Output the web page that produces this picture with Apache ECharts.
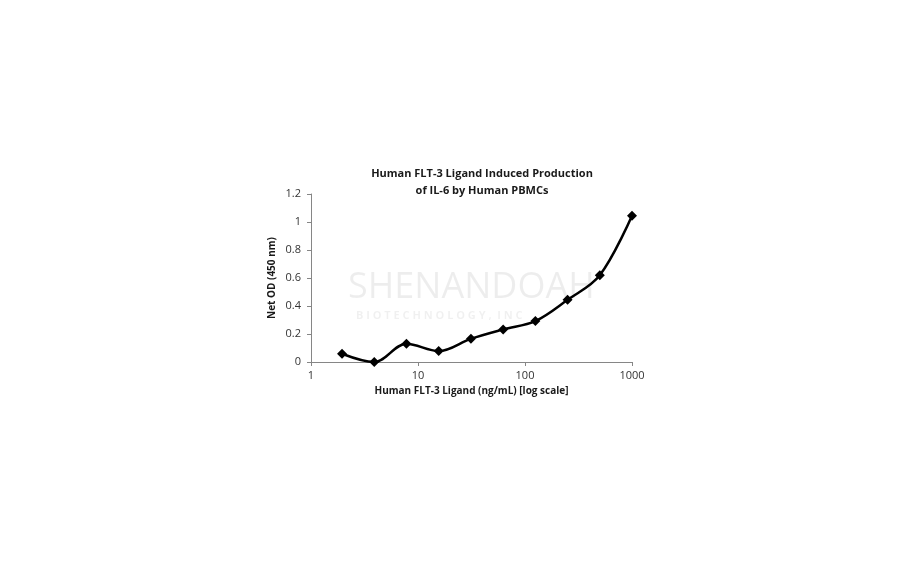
<!DOCTYPE html>
<html>
<head>
<meta charset="utf-8">
<script src="https://cdn.jsdelivr.net/npm/echarts@6/dist/echarts.min.js"></script>
<style>
html,body{margin:0;padding:0;background:#fff;}
#chart{width:912px;height:562px;}
</style>
</head>
<body>
<div id="chart"></div>
<script>
// concentrations (ng/mL) and net OD readings
const concentrations = [1.95, 3.9, 7.8, 15.6, 31.25, 62.5, 125, 250, 500, 1000];
const netOD = [0.059, 0.0, 0.13, 0.078, 0.166, 0.233, 0.292, 0.444, 0.62, 1.045];
const titleLines = ['Human FLT-3 Ligand Induced Production', 'of IL-6 by Human PBMCs'];
const xName = 'Human FLT-3 Ligand (ng/mL) [log scale]';
const yName = 'Net OD (450 nm)';

const font = 'Open Sans, Liberation Sans, sans-serif';
const chart = echarts.init(document.getElementById('chart'));
chart.setOption({
  backgroundColor: '#fff',
  animation: false,
  title: {
    text: titleLines.join('\n'),
    left: 477,
    textAlign: 'center',
    top: 160,
    textStyle: { fontFamily: font, fontSize: 11, fontWeight: 'bold', color: '#1a1a1a', lineHeight: 17 }
  },
  graphic: [
    {
      type: 'text', left: 348, top: 270, silent: true,
      style: { text: 'SHENANDOAH', font: '36px ' + font, fill: 'rgba(0,0,0,0.07)' }
    },
    {
      type: 'text', left: 356, top: 310, silent: true,
      style: { text: 'B I O T E C H N O L O G Y ,  I N C', font: 'bold 11px ' + font, fill: 'rgba(0,0,0,0.06)' }
    }
  ],
  grid: { left: 311, right: 280, top: 194, bottom: 200 },
  xAxis: {
    type: 'log',
    logBase: 10,
    min: 1,
    max: 1000,
    name: xName,
    nameLocation: 'middle',
    nameGap: 24,
    nameTextStyle: { fontFamily: font, fontSize: 10, fontWeight: 'bold', color: '#1a1a1a' },
    axisLine: { lineStyle: { color: '#868686', width: 1 } },
    axisTick: { show: true, length: 4, lineStyle: { color: '#868686' } },
    axisLabel: { fontFamily: font, fontSize: 11, color: '#333', margin: 8, formatter: v => String(Math.round(v)) },
    splitLine: { show: false },
    minorTick: { show: false }
  },
  yAxis: {
    type: 'value',
    min: 0,
    max: 1.2,
    interval: 0.2,
    name: yName,
    nameLocation: 'middle',
    nameGap: 34,
    nameTextStyle: { fontFamily: font, fontSize: 10, fontWeight: 'bold', color: '#1a1a1a' },
    axisLine: { show: true, lineStyle: { color: '#868686', width: 1 } },
    axisTick: { show: true, length: 4, lineStyle: { color: '#868686' } },
    axisLabel: {
      fontFamily: font, fontSize: 11, color: '#333', margin: 10,
      formatter: v => String(Math.round(v * 10) / 10)
    },
    splitLine: { show: false }
  },
  series: [{
    type: 'line',
    data: concentrations.map((c, i) => [c, netOD[i]]),
    smooth: 0.35,
    symbol: 'diamond',
    symbolSize: 10,
    itemStyle: { color: '#000' },
    lineStyle: { color: '#000', width: 2.5 }
  }]
});
</script>
</body>
</html>
